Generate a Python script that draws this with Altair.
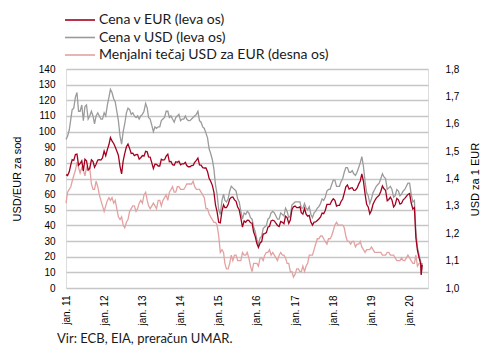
import altair as alt
import pandas as pd

# Brent price in USD per barrel (semi-monthly readings, 1st and 16th of month)
usd = [
    # 2011
    95, 97, 101, 108, 114, 115, 122, 125, 113, 113, 117, 107,
    116, 117, 108, 110, 113, 110, 105, 110, 112, 110, 108, 108,
    # 2012
    112, 110, 117, 122, 127, 125, 121, 119, 113, 107, 97, 92,
    100, 105, 112, 115, 114, 111, 112, 110, 109, 110, 108, 110,
    # 2013
    111, 113, 118, 115, 109, 108, 104, 100, 103, 102, 103, 103,
    107, 108, 109, 113, 113, 109, 110, 108, 106, 109, 110, 111,
    # 2014
    107, 108, 108, 110, 108, 107, 107, 108, 109, 110, 111, 113,
    107, 106, 103, 102, 99, 96, 89, 86, 82, 76, 66, 60,
    # 2015
    50, 47, 56, 60, 56, 55, 57, 62, 65, 64, 63, 62,
    57, 55, 49, 44, 48, 47, 49, 48, 45, 44, 39, 36,
    # 2016
    31, 28, 32, 33, 38, 39, 40, 44, 45, 48, 49, 48,
    46, 44, 44, 48, 47, 46, 51, 49, 45, 46, 53, 54,
    # 2017
    55, 55, 55, 55, 51, 51, 54, 51, 50, 52, 47, 45,
    48, 49, 51, 52, 54, 57, 56, 58, 62, 63, 63, 66,
    # 2018
    69, 69, 65, 65, 65, 68, 70, 74, 77, 77, 74, 74,
    75, 73, 72, 74, 77, 80, 84, 78, 68, 61, 59, 54,
    # 2019
    57, 61, 63, 65, 66, 67, 70, 73, 71, 70, 63, 64,
    65, 63, 58, 59, 63, 62, 59, 60, 62, 63, 65, 67,
    # 2020
    67, 60, 55, 56, 36, 26, 21, 17, 9, 16,
]

# Brent price in EUR per barrel
eur = [
    # 2011
    72.5, 71.9, 74.3, 78.8, 82.0, 81.6, 85.3, 85.6, 78.5, 79.6, 81.3, 74.8,
    82.3, 81.3, 75.5, 76.4, 81.9, 80.9, 77.2, 79.1, 81.8, 82.1, 81.8, 83.1,
    # 2012
    87.5, 84.6, 88.6, 91.7, 96.2, 94.0, 92.4, 90.2, 87.6, 84.9, 77.6, 73.0,
    81.3, 86.1, 90.3, 92.0, 89.1, 86.0, 86.2, 84.6, 85.2, 85.3, 82.4, 83.3,
    # 2013
    84.7, 84.3, 87.4, 87.1, 83.8, 83.7, 80.0, 76.3, 79.2, 79.1, 78.0, 78.0,
    82.3, 81.8, 82.0, 84.3, 85.6, 80.7, 80.9, 78.8, 78.5, 80.7, 80.3, 81.0,
    # 2014
    78.7, 79.4, 79.4, 80.3, 78.3, 77.5, 77.5, 78.3, 78.4, 80.3, 81.6, 83.1,
    78.7, 78.5, 76.9, 76.7, 76.7, 74.4, 70.1, 68.3, 65.6, 61.3, 53.2, 48.8,
    # 2015
    42.0, 41.6, 49.1, 53.1, 51.4, 51.4, 53.3, 56.9, 58.0, 58.2, 56.3, 55.4,
    51.8, 50.0, 44.5, 38.9, 42.9, 42.0, 43.4, 43.2, 41.7, 41.5, 35.8, 33.0,
    # 2016
    28.4, 25.9, 28.8, 29.7, 34.5, 34.8, 35.4, 38.9, 39.5, 42.9, 43.4, 42.9,
    41.4, 40.0, 39.3, 42.5, 42.0, 41.1, 45.9, 45.0, 41.3, 43.4, 50.0, 51.9,
    # 2017
    52.4, 51.4, 51.4, 51.9, 48.1, 47.2, 50.9, 47.2, 45.9, 46.4, 42.0, 40.2,
    42.1, 42.2, 43.2, 44.1, 45.4, 47.9, 47.5, 49.6, 53.4, 53.4, 53.4, 55.5,
    # 2018
    57.0, 56.1, 52.4, 52.8, 52.8, 55.3, 56.9, 60.7, 64.7, 65.8, 63.2, 63.8,
    64.1, 62.4, 62.6, 63.8, 66.4, 68.4, 73.0, 68.4, 60.2, 53.5, 51.8, 47.4,
    # 2019
    49.6, 53.5, 55.8, 57.5, 58.4, 59.3, 61.9, 65.2, 63.4, 62.5, 55.8, 56.6,
    58.0, 56.3, 51.8, 53.2, 57.3, 56.4, 53.6, 54.1, 56.4, 57.3, 58.6, 59.8,
    # 2020
    60.4, 54.5, 50.5, 51.4, 32.1, 24.1, 19.3, 15.6, 8.3, 14.8,
]

# USD per 1 EUR
fx = [
    # 2011
    1.31, 1.35, 1.36, 1.37, 1.39, 1.41, 1.43, 1.46, 1.44, 1.42, 1.44, 1.43,
    1.41, 1.44, 1.43, 1.44, 1.38, 1.36, 1.36, 1.39, 1.37, 1.34, 1.32, 1.30,
    # 2012
    1.28, 1.30, 1.32, 1.33, 1.32, 1.33, 1.31, 1.32, 1.29, 1.26, 1.25, 1.26,
    1.23, 1.22, 1.24, 1.25, 1.28, 1.29, 1.30, 1.30, 1.28, 1.29, 1.31, 1.32,
    # 2013
    1.31, 1.34, 1.35, 1.32, 1.30, 1.29, 1.30, 1.31, 1.30, 1.29, 1.32, 1.32,
    1.30, 1.32, 1.33, 1.34, 1.32, 1.35, 1.36, 1.37, 1.35, 1.35, 1.37, 1.37,
    # 2014
    1.36, 1.36, 1.36, 1.37, 1.38, 1.38, 1.38, 1.38, 1.39, 1.37, 1.36, 1.36,
    1.36, 1.35, 1.34, 1.33, 1.29, 1.29, 1.27, 1.26, 1.25, 1.24, 1.24, 1.23,
    # 2015
    1.19, 1.13, 1.14, 1.13, 1.09, 1.07, 1.07, 1.09, 1.12, 1.10, 1.12, 1.12,
    1.10, 1.10, 1.10, 1.13, 1.12, 1.12, 1.13, 1.11, 1.08, 1.06, 1.09, 1.09,
    # 2016
    1.09, 1.08, 1.11, 1.11, 1.10, 1.12, 1.13, 1.13, 1.14, 1.12, 1.13, 1.12,
    1.11, 1.10, 1.12, 1.13, 1.12, 1.12, 1.11, 1.09, 1.09, 1.06, 1.06, 1.04,
    # 2017
    1.05, 1.07, 1.07, 1.06, 1.06, 1.08, 1.06, 1.08, 1.09, 1.12, 1.12, 1.12,
    1.14, 1.16, 1.18, 1.18, 1.19, 1.19, 1.18, 1.17, 1.16, 1.18, 1.18, 1.19,
    # 2018
    1.21, 1.23, 1.24, 1.23, 1.23, 1.23, 1.23, 1.22, 1.19, 1.17, 1.17, 1.16,
    1.17, 1.17, 1.15, 1.16, 1.16, 1.17, 1.15, 1.14, 1.13, 1.14, 1.14, 1.14,
    # 2019
    1.15, 1.14, 1.13, 1.13, 1.13, 1.13, 1.13, 1.12, 1.12, 1.12, 1.13, 1.13,
    1.12, 1.12, 1.12, 1.11, 1.10, 1.10, 1.10, 1.11, 1.10, 1.10, 1.11, 1.12,
    # 2020
    1.11, 1.10, 1.09, 1.09, 1.12, 1.08, 1.09, 1.09, 1.086, 1.08,
]

months = pd.date_range("2011-01-01", "2020-03-01", freq="MS")
dates = []
for m in months:
    dates.append(m.strftime("%Y-%m-%d"))
    dates.append((m + pd.Timedelta(days=15)).strftime("%Y-%m-%d"))
dates += ["2020-04-01", "2020-04-16", "2020-04-21", "2020-04-30"]

names = ["Cena v EUR (leva os)", "Cena v USD (leva os)",
         "Menjalni tečaj USD za EUR (desna os)"]
colors = ["#a3001f", "#9b9b9b", "#e3a2a2"]
year_ticks = [alt.DateTime(year=y, month=1, date=1) for y in range(2011, 2021)]
left_ticks = list(range(0, 141, 10))
right_ticks = [1.0, 1.1, 1.2, 1.3, 1.4, 1.5, 1.6, 1.7, 1.8]

df_eur = pd.DataFrame({"date": dates, "value": eur, "series": names[0]})
df_usd = pd.DataFrame({"date": dates, "value": usd, "series": names[1]})
df_fx = pd.DataFrame({"date": dates, "value": fx, "series": names[2]})

FONT = "Lato"
GRID = "#c6c6c6"
TXT = "#1a1a1a"

x_enc = alt.X(
    "date:T",
    scale=alt.Scale(domain=[alt.DateTime(year=2011, month=1, date=1),
                            alt.DateTime(year=2020, month=6, date=25)]),
    axis=alt.Axis(values=year_ticks, labelAngle=270, grid=False, ticks=False,
                  domain=False, title=None, labelPadding=7,
                  labelExpr="'jan. ' + timeFormat(datum.value, '%y')"),
)
color_enc = alt.Color(
    "series:N",
    scale=alt.Scale(domain=names, range=colors),
    legend=alt.Legend(title=None, orient="none", legendX=17, legendY=-56,
                      symbolType="M-5,0H1", symbolSize=100, symbolStrokeWidth=1.6,
                      labelFontSize=14, labelFont=FONT, labelColor=TXT,
                      rowPadding=3.5, labelOffset=2, labelLimit=400),
)

left_scale = alt.Scale(domain=[0, 140], nice=False)
left_axis = alt.Axis(values=left_ticks, grid=True, gridColor=GRID, gridWidth=1.5,
                     ticks=False, domain=False, title="USD/EUR za sod",
                     titleFontWeight="normal", labelPadding=11, titlePadding=16)

fx_line = alt.Chart(df_fx).mark_line(strokeWidth=1.3).encode(
    x=x_enc,
    y=alt.Y("value:Q", scale=alt.Scale(domain=[1.0, 1.8], nice=False, zero=False),
            axis=alt.Axis(orient="right", values=right_ticks, grid=False, ticks=False,
                          domain=False, title="USD za 1 EUR", titleAngle=270,
                          titleFontWeight="normal", labelPadding=17,
                          titleX=47, titleY=110, titleAlign="center",
                          titleBaseline="middle",
                          labelExpr="replace(format(datum.value, '.1f'), '.', ',')")),
    color=color_enc,
)
usd_line = alt.Chart(df_usd).mark_line(strokeWidth=1.3).encode(
    x=x_enc,
    y=alt.Y("value:Q", scale=left_scale, axis=left_axis),
    color=color_enc,
)
eur_line = alt.Chart(df_eur).mark_line(strokeWidth=1.3).encode(
    x=x_enc,
    y=alt.Y("value:Q", scale=left_scale, axis=left_axis),
    color=color_enc,
)

left_layer = alt.layer(usd_line, eur_line)

chart = alt.layer(fx_line, left_layer).resolve_scale(y="independent").properties(
    width=362, height=219,
    autosize=alt.AutoSizeParams(type="none"),
    padding={"left": 58, "top": 61, "right": 52, "bottom": 64},
    title=alt.TitleParams("Vir: ECB, EIA, preračun UMAR.", orient="bottom",
                          anchor="start", frame="group", dx=-9, offset=8,
                          fontSize=13, fontWeight="normal", font=FONT, color=TXT),
).configure_view(
    stroke=GRID, strokeWidth=1.5
).configure_axis(
    labelFont=FONT, titleFont=FONT, labelFontSize=13, titleFontSize=13,
    titleFontWeight="normal", labelColor=TXT, titleColor=TXT,
).configure(background="white")

chart.save("out.html", embed_options={"renderer": "svg", "actions": False})
